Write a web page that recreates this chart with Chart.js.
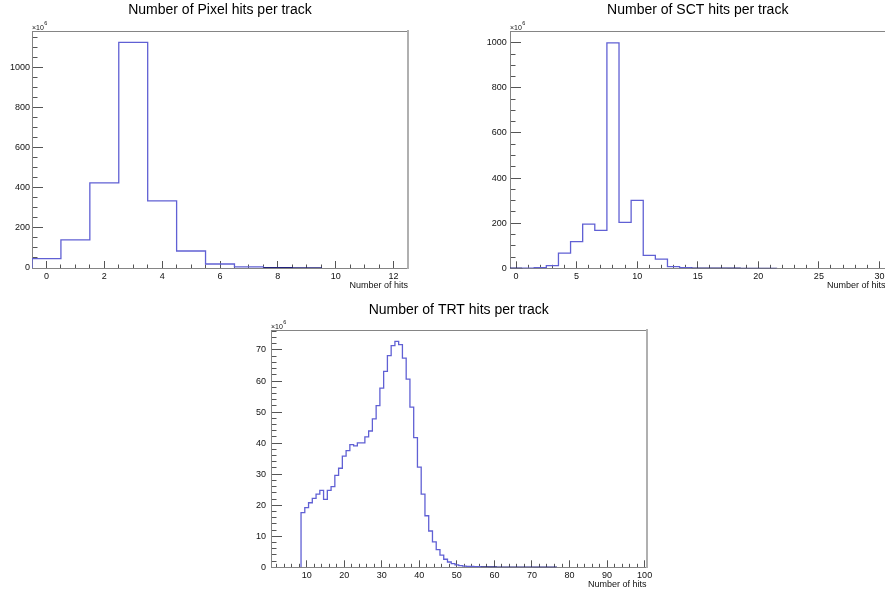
<!DOCTYPE html>
<html>
<head>
<meta charset="utf-8">
<title>Hits per track</title>
<script src="https://cdn.jsdelivr.net/npm/chart.js@4.4.1/dist/chart.umd.min.js"></script>
<style>
  html, body { margin: 0; padding: 0; background: #fff; overflow: hidden; }
  #page { position: relative; width: 885px; height: 592px; overflow: hidden; }
  canvas { position: absolute; }
</style>
</head>
<body>
<div id="page">
  <canvas id="pixel-chart" width="442" height="296" style="left:0;top:0"></canvas>
  <canvas id="sct-chart" width="444" height="296" style="left:442px;top:0"></canvas>
  <canvas id="trt-chart" width="420" height="296" style="left:240px;top:296px"></canvas>
</div>
<script>
// bin centres and tracks per bin (in millions)
const pixelBins = [0, 1, 2, 3, 4, 5, 6, 7, 8, 9];
const pixelCounts = [47, 141, 425, 1128, 335, 85, 20, 6, 1.5, 0.4];
const pixelXTicks = [0, 2, 4, 6, 8, 10, 12];
const pixelYTicks = [0, 200, 400, 600, 800, 1000];

const sctBins = [0, 1, 2, 3, 4, 5, 6, 7, 8, 9, 10, 11, 12, 13, 14, 15, 16, 17, 18, 19, 20, 21];
const sctCounts = [0.3, 1, 3, 12, 67, 118, 196, 168, 1000, 204, 301, 57, 41, 7, 3,
                   1, 0.6, 0.4, 0.2, 0.1, 0.1, 0.05];
const sctXTicks = [0, 5, 10, 15, 20, 25, 30];
const sctYTicks = [0, 200, 400, 600, 800, 1000];

const trtBins = [9, 10, 11, 12, 13, 14, 15, 16, 17, 18, 19, 20, 21, 22, 23, 24, 25, 26, 27, 28,
                 29, 30, 31, 32, 33, 34, 35, 36, 37, 38, 39, 40, 41, 42, 43, 44, 45, 46, 47, 48,
                 49, 50, 51, 52, 53, 54, 55, 56, 57, 58, 59, 60, 61, 62, 63, 64, 65, 66, 67, 68,
                 69, 70, 71, 72, 73, 74, 75, 76];
const trtCounts = [17.6, 19.2, 20.8, 22.2, 23.6, 24.8, 21.9, 24.8, 26.0, 29.6,
                   31.9, 35.8, 37.6, 39.5, 39.1, 40.1, 40.1, 42.0, 43.9, 47.8,
                   52.1, 57.7, 63.1, 68.2, 71.4, 72.8, 71.7, 67.4, 60.6, 51.6,
                   41.8, 32.3, 23.6, 16.6, 11.7, 8.2, 5.7, 3.9, 2.6, 1.7,
                   1.2, 0.8, 0.55, 0.4, 0.3, 0.25, 0.2, 0.18, 0.14, 0.12,
                   0.1, 0.09, 0.08, 0.07, 0.06, 0.05, 0.05, 0.04, 0.04, 0.03,
                   0.03, 0.03, 0.02, 0.02, 0.02, 0.01, 0.01, 0.01];
const trtXTicks = [10, 20, 30, 40, 50, 60, 70, 80, 90, 100];
const trtYTicks = [0, 10, 20, 30, 40, 50, 60, 70];

const FONT = "'Liberation Sans', Arial, Helvetica, sans-serif";
const LINE_BLUE = '#6060d4';
const LINE_LOW = '#20207c';
const FRAME = '#858585';
const TICK = '#555';
const TEXT = '#111';

Chart.defaults.font.family = FONT;

// each bin becomes a left-edge point, so the stepped line traces the histogram outline
function stepPoints(bins, counts) {
  const pts = [{ x: bins[0] - 0.5, y: 0 }];
  bins.forEach((b, i) => pts.push({ x: b - 0.5, y: counts[i] }));
  pts.push({ x: bins[bins.length - 1] + 0.5, y: 0 });
  return pts;
}

function minorTicks(min, max, step) {
  const out = [];
  for (let v = Math.ceil(min / step) * step; v < max; v += step) {
    const r = Math.round(v * 1000) / 1000;
    if (r > min) out.push({ value: r });
  }
  return out;
}

function fixSize(size) {
  return scale => {
    if (scale.isHorizontal()) scale.height = size;
    else scale.width = size;
    scale.paddingLeft = 0;
    scale.paddingRight = 0;
    scale.paddingTop = 0;
    scale.paddingBottom = 0;
  };
}

const exponentLabel = {
  id: 'exponentLabel',
  afterDraw(chart) {
    const { ctx, chartArea } = chart;
    ctx.save();
    ctx.fillStyle = TEXT;
    ctx.textAlign = 'left';
    ctx.textBaseline = 'alphabetic';
    ctx.font = '7px ' + FONT;
    ctx.fillText('×10', chartArea.left, chartArea.top - 1.5);
    const w = ctx.measureText('×10').width;
    ctx.font = '5.5px ' + FONT;
    ctx.fillText('6', chartArea.left + w + 0.3, chartArea.top - 6.5);
    ctx.restore();
  }
};

function drawHist(canvasId, cfg) {
  const yMax = Math.max(...cfg.counts) * 1.05;
  const labelFont = { family: FONT, size: 9 };

  return new Chart(document.getElementById(canvasId), {
    type: 'line',
    data: {
      datasets: [{
        data: stepPoints(cfg.bins, cfg.counts),
        stepped: true,
        borderColor: LINE_BLUE,
        borderWidth: 1.3,
        pointRadius: 0,
        pointHoverRadius: 0,
        fill: false,
        segment: {
          borderColor: ctx => (ctx.p0.parsed.y < cfg.lowCut && ctx.p1.parsed.y < cfg.lowCut) ? LINE_LOW : undefined
        }
      }]
    },
    options: {
      responsive: false,
      animation: false,
      events: [],
      layout: { padding: { left: 0, right: cfg.padRight, top: 0, bottom: 0 } },
      plugins: {
        legend: { display: false },
        tooltip: { enabled: false },
        title: {
          display: true,
          text: cfg.title,
          fullSize: false,
          color: '#000',
          font: { family: FONT, size: 14, weight: 'normal' },
          padding: { top: cfg.titleTop, bottom: cfg.titleBottom }
        }
      },
      scales: {
        x: {
          type: 'linear', axis: 'x', position: 'bottom', weight: 1,
          min: cfg.xMin, max: cfg.xMax,
          afterBuildTicks: s => { s.ticks = cfg.xTicks.map(v => ({ value: v })); },
          afterFit: fixSize(cfg.xAxisHeight),
          grid: { drawOnChartArea: false, tickLength: -7, tickColor: TICK, tickWidth: 1 },
          border: { color: FRAME, width: 1 },
          ticks: { autoSkip: false, maxRotation: 0, padding: 9.8, color: TEXT, font: labelFont, callback: v => String(v) },
          title: {
            display: true, text: 'Number of hits', align: 'end', color: TEXT, font: labelFont,
            padding: { top: 0, bottom: cfg.xTitlePad }
          }
        },
        xMinor: {
          type: 'linear', axis: 'x', position: 'bottom', weight: 0,
          min: cfg.xMin, max: cfg.xMax,
          afterBuildTicks: s => { s.ticks = minorTicks(cfg.xMin, cfg.xMax, cfg.xMinorStep); },
          afterFit: fixSize(0),
          grid: { drawOnChartArea: false, tickLength: -3.5, tickColor: TICK, tickWidth: 1 },
          border: { display: false },
          ticks: { display: false }
        },
        xTop: {
          type: 'linear', axis: 'x', position: 'top', weight: 0,
          min: cfg.xMin, max: cfg.xMax,
          afterFit: fixSize(0),
          grid: { drawOnChartArea: false, drawTicks: false },
          border: { color: FRAME, width: 1 },
          ticks: { display: false }
        },
        y: {
          type: 'linear', axis: 'y', position: 'left', weight: 1,
          min: 0, max: yMax,
          afterBuildTicks: s => { s.ticks = cfg.yTicks.map(v => ({ value: v })); },
          afterFit: fixSize(cfg.yAxisWidth),
          grid: { drawOnChartArea: false, tickLength: -11, tickColor: TICK, tickWidth: 1 },
          border: { color: FRAME, width: 1 },
          ticks: { autoSkip: false, padding: cfg.yLabelPad, color: TEXT, font: labelFont, callback: v => String(v) }
        },
        yMinor: {
          type: 'linear', axis: 'y', position: 'left', weight: 0,
          min: 0, max: yMax,
          afterBuildTicks: s => { s.ticks = minorTicks(0, yMax, cfg.yMinorStep); },
          afterFit: fixSize(0),
          grid: { drawOnChartArea: false, tickLength: -5.5, tickColor: TICK, tickWidth: 1 },
          border: { display: false },
          ticks: { display: false }
        },
        yRight: {
          type: 'linear', axis: 'y', position: 'right', weight: 0,
          min: 0, max: yMax,
          afterFit: fixSize(0),
          grid: { drawOnChartArea: false, drawTicks: false },
          border: { color: '#b0b0b0', width: 2 },
          ticks: { display: false }
        }
      }
    },
    plugins: [exponentLabel]
  });
}

drawHist('pixel-chart', {
  title: 'Number of Pixel hits per track',
  bins: pixelBins, counts: pixelCounts, xTicks: pixelXTicks, yTicks: pixelYTicks,
  xMin: -0.5, xMax: 12.5, xMinorStep: 0.5, yMinorStep: 50, lowCut: 2,
  padRight: 34, yAxisWidth: 32, xAxisHeight: 28,
  titleTop: 2.2, titleBottom: 12, yLabelPad: 13, xTitlePad: 5.4
});

drawHist('sct-chart', {
  title: 'Number of SCT hits per track',
  bins: sctBins, counts: sctCounts, xTicks: sctXTicks, yTicks: sctYTicks,
  xMin: -0.5, xMax: 30.5, xMinorStep: 1, yMinorStep: 50, lowCut: 2,
  padRight: 0.5, yAxisWidth: 68, xAxisHeight: 27.7,
  titleTop: 2.2, titleBottom: 12.5, yLabelPad: 14.3, xTitlePad: 5.4
});

drawHist('trt-chart', {
  title: 'Number of TRT hits per track',
  bins: trtBins, counts: trtCounts, xTicks: trtXTicks, yTicks: trtYTicks,
  xMin: 0.5, xMax: 100.5, xMinorStep: 2, yMinorStep: 2, lowCut: 0.15,
  padRight: 13.5, yAxisWidth: 31, xAxisHeight: 24.7,
  titleTop: 5.3, titleBottom: 11.9, yLabelPad: 16, xTitlePad: 2.3
});
</script>
</body>
</html>
